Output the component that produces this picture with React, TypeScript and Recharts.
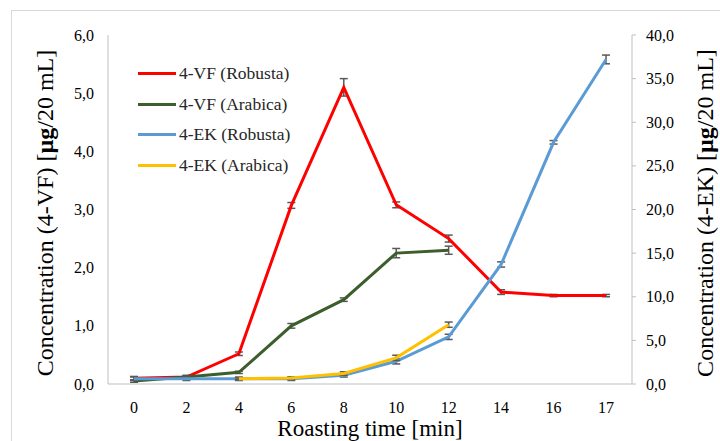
import { LineChart, Line, XAxis, YAxis, ErrorBar } from "recharts";

const times = ["0", "2", "4", "6", "8", "10", "12", "14", "16", "17"];

// 4-VF, left axis
const vfRobusta = [0.1, 0.12, 0.52, 3.07, 5.1, 3.08, 2.5, 1.58, 1.52, 1.52];
const vfRobustaErr = [0.03, 0.03, 0.03, 0.05, 0.15, 0.05, 0.06, 0.04, 0.02, 0.02];
const vfArabica = [0.05, 0.12, 0.2, 1.0, 1.45, 2.25, 2.3, null, null, null];
const vfArabicaErr = [0.02, 0.02, 0.02, 0.04, 0.03, 0.08, 0.07, null, null, null];

// 4-EK, right axis
const ekRobusta = [0.6, 0.6, 0.6, 0.6, 1.0, 2.6, 5.4, 13.7, 27.7, 37.2];
const ekRobustaErr = [0.2, 0.2, 0.2, 0.2, 0.2, 0.3, 0.3, 0.3, 0.2, 0.5];
const ekArabica = [null, null, 0.6, 0.7, 1.2, 3.0, 6.8, null, null, null];
const ekArabicaErr = [null, null, 0.1, 0.1, 0.2, 0.3, 0.3, null, null, null];

const leftTicks = [0, 1, 2, 3, 4, 5, 6];
const rightTicks = [0, 5, 10, 15, 20, 25, 30, 35, 40];

const series = [
  { key: "vfR", name: "4-VF (Robusta)", color: "#ff0000" },
  { key: "vfA", name: "4-VF (Arabica)", color: "#3b5e2b" },
  { key: "ekR", name: "4-EK (Robusta)", color: "#5b9bd5" },
  { key: "ekA", name: "4-EK (Arabica)", color: "#ffc000" },
];

const data = times.map((t, i) => ({
  time: t,
  vfR: vfRobusta[i],
  vfRErr: vfRobustaErr[i],
  vfA: vfArabica[i],
  vfAErr: vfArabicaErr[i],
  ekR: ekRobusta[i],
  ekRErr: ekRobustaErr[i],
  ekA: ekArabica[i],
  ekAErr: ekArabicaErr[i],
}));

const font = "'Liberation Serif', serif";
const axisGrey = "#bfbfbf";
const fmt = (v: number) => v.toFixed(1).replace(".", ",");

const Tick = ({ x, y, payload, anchor, dx = 0, dy = 0, format }: any) => (
  <text
    x={x + dx}
    y={y + dy}
    textAnchor={anchor}
    dominantBaseline="central"
    fontFamily={font}
    fontSize={16}
    fill="#000"
  >
    {format ? format(payload.value) : payload.value}
  </text>
);

const YTitle = ({ posX, label }: { posX: number; label: string }) => (
  <text
    x={posX}
    y={213}
    transform={`rotate(-90 ${posX} 213)`}
    textAnchor="middle"
    dominantBaseline="central"
    fontFamily={font}
    fontSize={24}
    fill="#000"
  >
    {`Concentration (${label}) [`}
    <tspan fontWeight="bold">µg</tspan>
    {"/20 mL]"}
  </text>
);

const XTitle = () => (
  <text x={370} y={428} textAnchor="middle" dominantBaseline="central" fontFamily={font} fontSize={23} fill="#000">
    Roasting time [min]
  </text>
);

export default function App() {
  return (
    <div style={{ position: "absolute", left: 0, top: 0, width: 720, height: 441, background: "#fff", overflow: "hidden", fontFamily: font }}>
      <div style={{ position: "absolute", left: 11, top: 10, width: 720, height: 441, borderLeft: "1px solid #d9d9d9", borderTop: "1px solid #d9d9d9" }} />
      <LineChart width={720} height={441} data={data} margin={{ top: 35, right: 0, bottom: 0, left: 0 }}>
        <XAxis
          dataKey="time"
          stroke={axisGrey}
          tickLine={false}
          height={57}
          padding={{ left: 26, right: 26 }}
          tick={<Tick anchor="middle" dy={15} />}
          label={<XTitle />}
        />
        <YAxis
          yAxisId="left"
          width={108}
          domain={[0, 6]}
          ticks={leftTicks}
          stroke={axisGrey}
          tickSize={0}
          tick={<Tick anchor="end" dx={-12} format={fmt} />}
          label={<YTitle posX={45} label="4-VF" />}
        />
        <YAxis
          yAxisId="right"
          orientation="right"
          width={88}
          domain={[0, 40]}
          ticks={rightTicks}
          stroke={axisGrey}
          tickSize={4}
          tick={<Tick anchor="start" dx={8} format={fmt} />}
          label={<YTitle posX={705} label="4-EK" />}
        />
        <Line yAxisId="left" type="linear" dataKey="vfR" name="4-VF (Robusta)" stroke="#ff0000" strokeWidth={3} dot={false} isAnimationActive={false}>
          <ErrorBar dataKey="vfRErr" width={4} stroke="#595959" strokeWidth={1.5} />
        </Line>
        <Line yAxisId="left" type="linear" dataKey="vfA" name="4-VF (Arabica)" stroke="#3b5e2b" strokeWidth={3} dot={false} isAnimationActive={false}>
          <ErrorBar dataKey="vfAErr" width={4} stroke="#595959" strokeWidth={1.5} />
        </Line>
        <Line yAxisId="right" type="linear" dataKey="ekR" name="4-EK (Robusta)" stroke="#5b9bd5" strokeWidth={3} dot={false} isAnimationActive={false}>
          <ErrorBar dataKey="ekRErr" width={4} stroke="#595959" strokeWidth={1.5} />
        </Line>
        <Line yAxisId="right" type="linear" dataKey="ekA" name="4-EK (Arabica)" stroke="#ffc000" strokeWidth={3} dot={false} isAnimationActive={false}>
          <ErrorBar dataKey="ekAErr" width={4} stroke="#595959" strokeWidth={1.5} />
        </Line>
      </LineChart>
      <div style={{ position: "absolute", left: 138, top: 58, fontSize: 17.5, color: "#262626" }}>
        {series.map((s) => (
          <div key={s.key} style={{ display: "flex", alignItems: "center", height: 30.7 }}>
            <span style={{ display: "inline-block", width: 38, height: 3, background: s.color, marginRight: 3 }} />
            <span>{s.name}</span>
          </div>
        ))}
      </div>
    </div>
  );
}
